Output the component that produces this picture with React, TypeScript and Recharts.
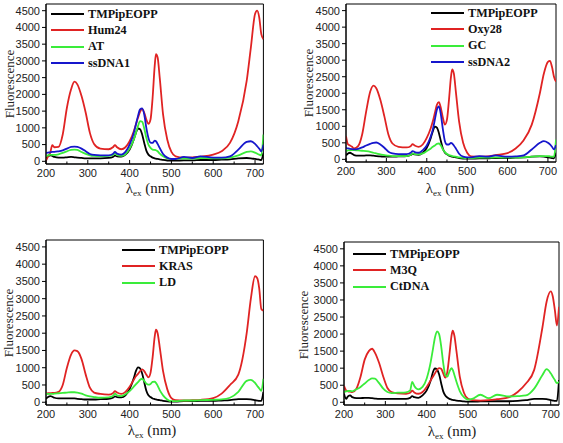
import React from 'react';
import { LineChart, Line, XAxis, YAxis, ReferenceArea, Legend } from 'recharts';

// Excitation wavelengths (nm) at which the spectra were read
const WAVELENGTH = [
  200, 205, 210, 215, 220, 230, 240, 250, 260, 268,
  275, 285, 295, 305, 315, 330, 350, 360, 365, 370,
  380, 390, 400, 410, 415, 420, 425, 430, 435, 440,
  445, 450, 455, 460, 463, 467, 472, 480, 490, 500,
  510, 530, 550, 570, 600, 620, 640, 660, 680, 690,
  700, 705, 710, 715, 720,
];

const X_TICKS = [200, 250, 300, 350, 400, 450, 500, 550, 600, 650, 700];
const Y_TICKS = [0, 500, 1000, 1500, 2000, 2500, 3000, 3500, 4000, 4500];

// Panel A
const TMP_A = [
  100, 150, 180, 160, 130, 110, 110, 120, 130, 120,
  110, 100, 90, 90, 90, 90, 100, 130, 170, 150,
  140, 200, 350, 650, 850, 980, 960, 800, 550, 320,
  200, 150, 110, 90, 80, 70, 60, 40, 25, 20,
  20, 30, 30, 40, 40, 50, 60, 90, 100, 90,
  70, 60, 50, 40, 250,
];
const HUM24 = [
  20, 150, 250, 480, 420, 430, 800, 1600, 2150, 2380,
  2300, 1950, 1450, 850, 520, 380, 360, 420, 480, 420,
  360, 420, 600, 900, 1100, 1300, 1480, 1560, 1450, 1250,
  1120, 1250, 1900, 2850, 3200, 3100, 2500, 1400, 650, 280,
  150, 110, 120, 140, 200, 300, 550, 1200, 2400, 3400,
  4400, 4500, 4300, 3800, 3650,
];
const AT = [
  150, 180, 200, 190, 190, 210, 250, 300, 340, 350,
  340, 280, 220, 180, 160, 150, 160, 190, 230, 190,
  160, 220, 380, 650, 850, 1050, 1200, 1180, 980, 700,
  500, 400, 350, 340, 330, 300, 230, 150, 90, 70,
  70, 90, 80, 100, 90, 90, 110, 180, 280, 300,
  260, 230, 200, 180, 800,
];
const SSDNA1 = [
  250, 260, 270, 280, 280, 300, 330, 380, 430, 440,
  430, 380, 300, 220, 190, 180, 180, 220, 280, 230,
  200, 280, 500, 850, 1100, 1350, 1550, 1580, 1400, 1000,
  700, 560, 550, 620, 600, 520, 400, 220, 110, 70,
  70, 130, 100, 150, 110, 110, 150, 350, 580, 600,
  520, 450, 380, 300, 500,
];

// Panel B
const TMP_B = [
  120, 180, 200, 170, 130, 110, 110, 120, 120, 110,
  100, 90, 80, 80, 80, 90, 100, 130, 170, 150,
  140, 200, 350, 650, 850, 990, 960, 800, 550, 320,
  200, 150, 110, 90, 80, 70, 60, 40, 25, 20,
  20, 30, 30, 40, 40, 50, 60, 80, 90, 80,
  60, 50, 40, 30, 200,
];
const OXY28 = [
  700, 450, 420, 380, 330, 400, 750, 1450, 2050, 2230,
  2150, 1800, 1300, 750, 480, 380, 360, 400, 460, 420,
  380, 450, 650, 950, 1150, 1400, 1650, 1730, 1550, 1250,
  1050, 1200, 1800, 2500, 2720, 2600, 2050, 1150, 500, 200,
  90, 80, 90, 130, 190, 330, 580, 1050, 2000, 2600,
  2950, 2980, 2800, 2500, 2350,
];
const GC = [
  250, 270, 280, 280, 280, 270, 260, 250, 230, 200,
  180, 150, 130, 110, 100, 100, 100, 130, 180, 160,
  150, 180, 250, 330, 380, 420, 470, 480, 420, 300,
  220, 160, 130, 110, 100, 90, 80, 60, 45, 40,
  40, 50, 50, 60, 50, 50, 60, 80, 100, 100,
  100, 90, 80, 80, 600,
];
const SSDNA2 = [
  350, 330, 320, 310, 300, 320, 360, 420, 470, 500,
  510, 450, 350, 230, 180, 160, 160, 200, 250, 220,
  200, 280, 420, 700, 900, 1200, 1500, 1600, 1350, 900,
  550, 450, 450, 500, 480, 420, 330, 170, 80, 60,
  60, 100, 80, 120, 80, 90, 120, 300, 500, 550,
  500, 450, 380, 300, 430,
];

// Panel C
const TMP_C = [
  100, 150, 180, 160, 130, 110, 110, 110, 110, 110,
  100, 90, 80, 80, 80, 90, 100, 130, 170, 150,
  140, 200, 380, 700, 900, 1010, 980, 830, 580, 330,
  200, 150, 110, 90, 80, 70, 60, 40, 25, 20,
  20, 30, 30, 40, 40, 50, 60, 90, 90, 80,
  60, 50, 40, 40, 300,
];
const KRAS = [
  250, 260, 260, 270, 270, 300, 500, 1000, 1380, 1500,
  1480, 1250, 800, 420, 280, 240, 220, 260, 320, 280,
  240, 300, 450, 650, 750, 820, 900, 950, 900, 800,
  720, 850, 1300, 1900, 2100, 2000, 1600, 900, 380, 120,
  60, 50, 60, 70, 120, 250, 500, 800, 2000, 3000,
  3650, 3600, 3300, 2700, 2650,
];
const LD = [
  250, 240, 240, 240, 250, 260, 270, 280, 290, 290,
  280, 250, 200, 170, 150, 130, 140, 180, 250, 200,
  180, 230, 320, 450, 520, 580, 650, 680, 620, 540,
  510, 530, 590, 600, 560, 480, 350, 200, 80, 30,
  30, 50, 50, 60, 70, 80, 130, 300, 620, 650,
  560, 480, 400, 330, 680,
];

// Panel D
const TMP_D = [
  250, 100, 180, 200, 150, 120, 120, 130, 130, 120,
  110, 100, 100, 100, 100, 100, 100, 130, 180, 150,
  130, 200, 350, 650, 880, 990, 960, 820, 560, 320,
  200, 140, 100, 80, 70, 60, 50, 40, 25, 20,
  20, 25, 30, 30, 30, 40, 60, 100, 100, 90,
  60, 50, 40, 40, 650,
];
const M3Q = [
  480, 350, 320, 310, 300, 400, 750, 1250, 1500, 1570,
  1450, 1150, 750, 420, 300, 260, 250, 280, 340, 290,
  250, 300, 450, 650, 750, 850, 950, 1000, 980, 850,
  720, 900, 1400, 1950, 2100, 1950, 1500, 750, 280, 100,
  60, 50, 60, 90, 150, 300, 550, 950, 2200, 2950,
  3250, 3100, 2700, 2250, 2800,
];
const CTDNA = [
  300, 320, 330, 330, 320, 380, 450, 550, 650, 700,
  690, 560, 400, 300, 270, 280, 290, 350, 600, 480,
  380, 450, 700, 1200, 1550, 1900, 2080, 2000, 1650, 1150,
  800, 750, 900, 1000, 950, 800, 600, 330, 150, 80,
  100, 220, 120, 220, 170, 180, 200, 400, 800, 970,
  850, 750, 650, 560, 600,
];

const BLACK = '#000000';
const RED = '#e02323';
const GREEN = '#3aec3a';
const BLUE = '#1616cc';

type Series = { key: string; name: string; values: number[]; color: string };

type PanelDef = {
  left: number;
  top: number;
  width: number;
  height: number;
  yAxisWidth: number;
  marginTop: number;
  marginRight: number;
  xAxisHeight: number;
  series: Series[];
  legendLeft: number;
  legendTop: number;
  yTitle: [number, number];
  xTitle: [number, number];
};

const PANELS: PanelDef[] = [
  {
    left: 0, top: 0, width: 280, height: 220,
    yAxisWidth: 46, marginTop: 4, marginRight: 16.6, xAxisHeight: 56,
    series: [
      { key: 'tmp', name: 'TMPipEOPP', values: TMP_A, color: BLACK },
      { key: 'hum24', name: 'Hum24', values: HUM24, color: RED },
      { key: 'at', name: 'AT', values: AT, color: GREEN },
      { key: 'ss1', name: 'ssDNA1', values: SSDNA1, color: BLUE },
    ],
    legendLeft: 51, legendTop: 6,
    yTitle: [9, 84], xTitle: [150, 189],
  },
  {
    left: 280, top: 0, width: 283, height: 220,
    yAxisWidth: 66, marginTop: 4, marginRight: 7, xAxisHeight: 58,
    series: [
      { key: 'tmp', name: 'TMPipEOPP', values: TMP_B, color: BLACK },
      { key: 'oxy', name: 'Oxy28', values: OXY28, color: RED },
      { key: 'gc', name: 'GC', values: GC, color: GREEN },
      { key: 'ss2', name: 'ssDNA2', values: SSDNA2, color: BLUE },
    ],
    legendLeft: 151, legendTop: 5,
    yTitle: [28, 83], xTitle: [170, 189],
  },
  {
    left: 0, top: 220, width: 280, height: 223,
    yAxisWidth: 46, marginTop: 20, marginRight: 16.6, xAxisHeight: 38,
    series: [
      { key: 'tmp', name: 'TMPipEOPP', values: TMP_C, color: BLACK },
      { key: 'kras', name: 'KRAS', values: KRAS, color: RED },
      { key: 'ld', name: 'LD', values: LD, color: GREEN },
    ],
    legendLeft: 122, legendTop: 22,
    yTitle: [8, 103], xTitle: [152, 211],
  },
  {
    left: 280, top: 220, width: 283, height: 223,
    yAxisWidth: 64, marginTop: 22, marginRight: 4, xAxisHeight: 38,
    series: [
      { key: 'tmp', name: 'TMPipEOPP', values: TMP_D, color: BLACK },
      { key: 'm3q', name: 'M3Q', values: M3Q, color: RED },
      { key: 'ct', name: 'CtDNA', values: CTDNA, color: GREEN },
    ],
    legendLeft: 73, legendTop: 26,
    yTitle: [23, 105], xTitle: [172, 212],
  },
];

const SANS = "'Liberation Sans', Arial, sans-serif";
const SERIF = "'Liberation Serif', 'DejaVu Serif', 'Times New Roman', Times, serif";

function buildRows(series: Series[]) {
  return WAVELENGTH.map((wl, i) => {
    const row: Record<string, number> = { wl };
    series.forEach((s) => {
      row[s.key] = s.values[i];
    });
    return row;
  });
}

const XTick = (props: any) => {
  const { x, y, payload } = props;
  const v = payload.value as number;
  const major = v % 100 === 0;
  return (
    <g>
      <line x1={x} x2={x} y1={y} y2={y - (major ? 4 : 2.5)} stroke="#000" strokeWidth={1} />
      {major && (
        <text x={x} y={y + 13} textAnchor="middle" fontSize={11} fill="#222" fontFamily={SANS}>
          {v}
        </text>
      )}
    </g>
  );
};

const makeLegend = (series: Series[]) => () => (
  <div style={{ fontFamily: SERIF, fontWeight: 700, fontSize: 12.2, color: '#111' }}>
    {series.map((s) => (
      <div key={s.key} style={{ display: 'flex', alignItems: 'center', height: 16.3, whiteSpace: 'nowrap' }}>
        <svg width={33} height={4} style={{ display: 'block' }}>
          <line x1={0} y1={2} x2={33} y2={2} stroke={s.color} strokeWidth={2} />
        </svg>
        <span style={{ marginLeft: 4, fontFamily: SERIF }}>{s.name}</span>
      </div>
    ))}
  </div>
);

function Panel({ p }: { p: PanelDef }) {
  const rows = buildRows(p.series);
  return (
    <div style={{ position: 'absolute', left: p.left, top: p.top, width: p.width, height: p.height }}>
      <LineChart
        width={p.width}
        height={p.height}
        data={rows}
        margin={{ top: p.marginTop, right: p.marginRight, left: 0, bottom: 0 }}
      >
        <XAxis
          dataKey="wl"
          type="number"
          domain={[200, 720]}
          allowDataOverflow
          ticks={X_TICKS}
          interval={0}
          height={p.xAxisHeight}
          tickSize={0}
          tickMargin={0}
          tickLine={false}
          axisLine={{ stroke: '#000' }}
          tick={<XTick />}
        />
        <YAxis
          type="number"
          domain={[-80, 4700]}
          allowDataOverflow
          ticks={Y_TICKS}
          interval={0}
          width={p.yAxisWidth}
          tickSize={4}
          tickMargin={2}
          tickLine={{ stroke: '#000' }}
          axisLine={{ stroke: '#000' }}
          tick={{ fontSize: 11, fill: '#222', fontFamily: SANS }}
        />
        {p.series.map((s) => (
          <Line
            key={s.key}
            dataKey={s.key}
            name={s.name}
            type="monotone"
            stroke={s.color}
            strokeWidth={1.8}
            dot={false}
            activeDot={false}
            isAnimationActive={false}
          />
        ))}
        <ReferenceArea
          x1={200}
          x2={720}
          y1={-80}
          y2={4700}
          fill="none"
          stroke="#000"
          strokeWidth={1}
          ifOverflow="visible"
        />
        <Legend
          layout="vertical"
          align="center"
          verticalAlign="middle"
          content={makeLegend(p.series)}
          wrapperStyle={{ left: p.legendLeft, top: p.legendTop, width: 'auto', height: 'auto' }}
        />
      </LineChart>
      <div
        style={{
          position: 'absolute',
          left: p.yTitle[0],
          top: p.yTitle[1],
          transform: 'translate(-50%, -50%) rotate(-90deg)',
          fontFamily: SERIF,
          fontSize: 13,
          color: '#222',
          whiteSpace: 'nowrap',
          lineHeight: 1,
        }}
      >
        Fluorescence
      </div>
      <div
        style={{
          position: 'absolute',
          left: p.xTitle[0],
          top: p.xTitle[1],
          transform: 'translate(-50%, -50%)',
          fontFamily: SERIF,
          fontSize: 15,
          color: '#222',
          whiteSpace: 'nowrap',
          lineHeight: 1,
        }}
      >
        λ<sub style={{ fontSize: 9, verticalAlign: '-3px', fontFamily: SERIF }}>ex</sub> (nm)
      </div>
    </div>
  );
}

export default function App() {
  return (
    <div
      style={{
        position: 'absolute',
        left: 0,
        top: 0,
        width: 563,
        height: 443,
        background: '#fff',
        overflow: 'hidden',
      }}
    >
      {PANELS.map((p, i) => (
        <Panel key={i} p={p} />
      ))}
    </div>
  );
}
